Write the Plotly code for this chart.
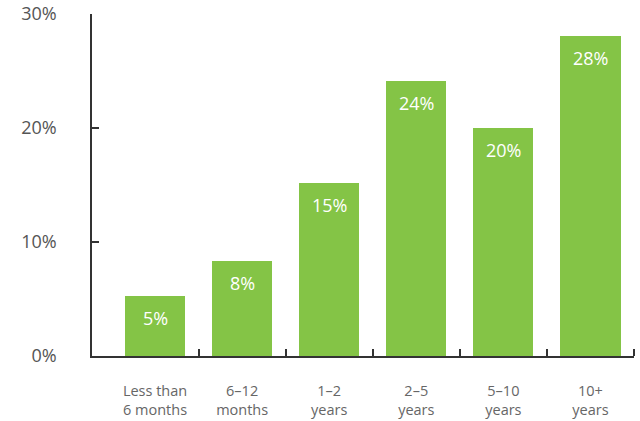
import plotly.graph_objects as go

categories = ["Less than<br>6 months", "6–12<br>months", "1–2<br>years", "2–5<br>years", "5–10<br>years", "10+<br>years"]
values = [5.3, 8.3, 15.2, 24.1, 20.0, 28.1]
labels = ["5%", "8%", "15%", "24%", "20%", "28%"]
y_ticks = [0, 10, 20, 30]
y_ticktext = ["0%", "10%", "20%", "30%"]

xs = list(range(len(categories)))
green = "#84c446"
font_family = "Open Sans, sans-serif"

fig = go.Figure()
fig.add_trace(go.Bar(x=xs, y=values, width=0.69, marker=dict(color=green, line=dict(width=0)),
                     hoverinfo="skip"))

for x, v, t in zip(xs, values, labels):
    fig.add_annotation(x=x, y=v, text=t, showarrow=False, yanchor="top", yshift=-8,
                       font=dict(family=font_family, size=18, color="white"))

fig.update_layout(
    width=640, height=421,
    margin=dict(l=92, r=6, t=14, b=65),
    paper_bgcolor="white", plot_bgcolor="white",
    showlegend=False,
    bargap=0,
    xaxis=dict(
        range=[-0.724, 5.5], tickvals=xs, ticktext=categories, ticks="",
        showgrid=False, zeroline=False, showline=True, linecolor="#333", linewidth=1.5,
        tickfont=dict(family=font_family, size=14.5, color="#666"),
        ticklabelstandoff=21, automargin=False, ticklabeloverflow="allow",
        minor=dict(tickvals=[i + 0.5 for i in xs], ticks="inside", ticklen=7,
                   tickwidth=1.5, tickcolor="#333", showgrid=False),
        fixedrange=True,
    ),
    yaxis=dict(
        range=[0, 30], tickvals=y_ticks, ticktext=y_ticktext, ticks="inside", ticklen=7,
        tickwidth=1.5, tickcolor="#333",
        showgrid=False, zeroline=False, showline=True, linecolor="#333", linewidth=1.5,
        tickfont=dict(family=font_family, size=18, color="#555"),
        ticklabelstandoff=30, automargin=False, ticklabeloverflow="allow",
        fixedrange=True,
    ),
)

fig.write_html("out.html")
